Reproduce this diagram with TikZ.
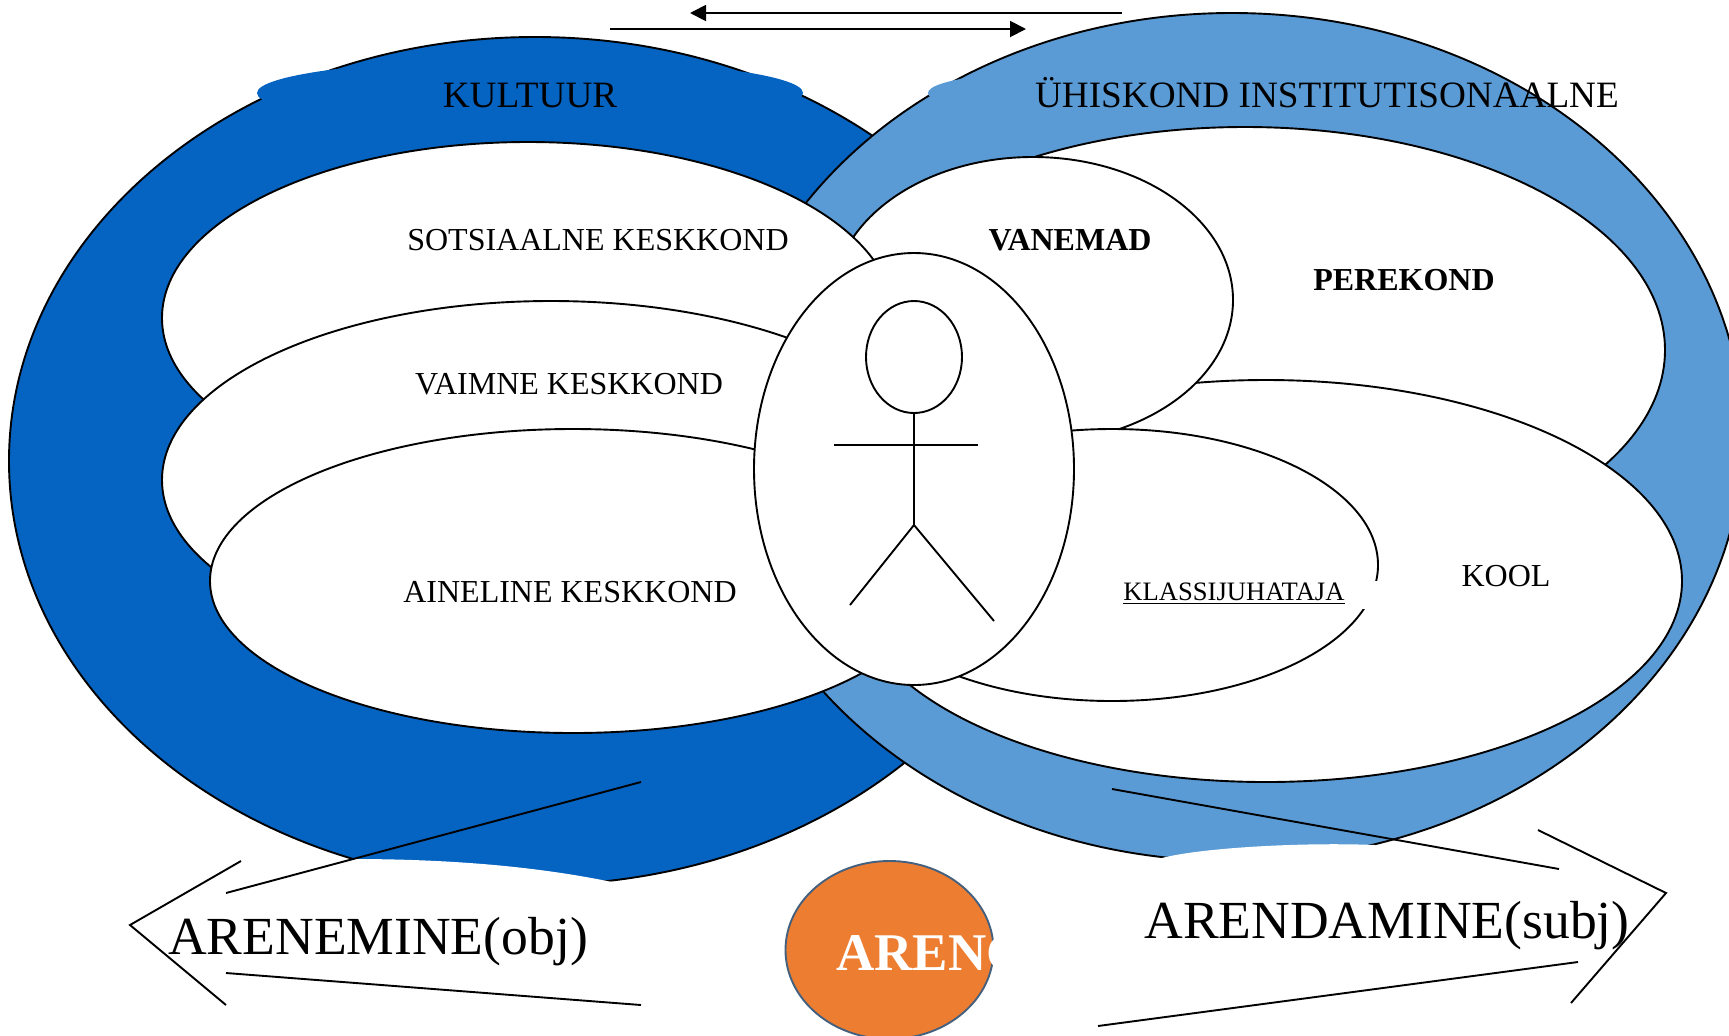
\documentclass[tikz,border=0pt]{standalone}
\usepackage{fontspec}
\setmainfont{Liberation Serif}
\usetikzlibrary{shapes.geometric,arrows.meta}
\definecolor{darkblue}{HTML}{0563C1}
\definecolor{lightblue}{HTML}{5B9BD5}
\definecolor{orangefill}{HTML}{ED7D31}
\definecolor{orangeedge}{HTML}{44607F}
\tikzset{
  oval/.style n args={2}{ellipse,inner sep=0pt,outer sep=0pt,minimum width=#1 pt,minimum height=#2 pt},
  white oval/.style n args={2}{oval={#1}{#2},draw=black,line width=0.95pt,fill=white},
  label16/.style={anchor=base,inner sep=0pt,font=\fontsize{16}{18}\selectfont},
  label18/.style={anchor=base,inner sep=0pt,font=\fontsize{18.6}{20}\selectfont},
  label27/.style={anchor=base,inner sep=0pt,font=\fontsize{26.8}{30}\selectfont},
  thin line/.style={draw=black,line width=0.95pt},
  head tip/.style={-{Triangle[length=8pt,width=8pt]}},
}
\begin{document}
\begin{tikzpicture}[x=0.5pt,y=-0.5pt]
\useasboundingbox (0,0) rectangle (1729,1035);
% outer rings
\node[oval={526}{424},draw=black,line width=0.95pt,fill=darkblue] (dark) at (535,461) {};
\node[oval={273}{34},fill=darkblue] (darkcap) at (530,93) {};
\fill[white] (352,859) .. controls (440,859) and (530,865) .. (612,882) -- (640,960) -- (300,960) -- cycle;
\node[oval={511}{424},draw=black,line width=0.95pt,fill=lightblue] (light) at (1232,437) {};
\node[oval={172}{24},fill=lightblue] (lightcap) at (1100,93) {};
\fill[white] (1162,858) .. controls (1200,848) and (1300,842) .. (1375,845) -- (1400,960) -- (1130,960) -- cycle;
% right ovals
\node[white oval={420}{223}] (perekond) at (1245,350) {};
\node[white oval={416}{201}] (kool) at (1266,581) {};
\node[white oval={200}{143}] (vanemad) at (1033,300) {};
\node[white oval={266}{136}] (klass) at (1112,565) {};
\fill[white] (1355,581) rectangle (1390,609);
% left ovals
\node[white oval={366}{176}] (sots) at (528,318) {};
\node[white oval={389}{179}] (vaimne) at (551,480) {};
\node[white oval={363}{152}] (aine) at (573,581) {};
% child
\node[white oval={160}{216}] (child) at (914,469) {};
\node[white oval={48}{56}] (head) at (914,357) {};
\coordinate (hip) at (914,525);
\coordinate (armL) at (834,445);
\coordinate (armR) at (978,445);
\coordinate (legL) at (850,605);
\coordinate (legR) at (994,621);
\draw[thin line] (head.south) -- (hip);
\draw[thin line] (armL) -- (armR);
\draw[thin line] (legL) -- (hip) -- (legR);
% top arrows
\coordinate (a1s) at (1122,13);
\coordinate (a1e) at (690,13);
\coordinate (a2s) at (610,29);
\coordinate (a2e) at (1026,29);
\draw[thin line,head tip] (a1s) -- (a1e);
\draw[thin line,head tip] (a2s) -- (a2e);
% big left arrow
\coordinate (l1) at (641,782);
\coordinate (l2) at (226,893);
\coordinate (l3) at (241,861);
\coordinate (l4) at (130,925);
\coordinate (l5) at (226,1005);
\coordinate (l6) at (226,973);
\coordinate (l7) at (641,1005);
\draw[thin line] (l1) -- (l2);
\draw[thin line] (l3) -- (l4) -- (l5);
\draw[thin line] (l6) -- (l7);
% big right arrow
\coordinate (r1) at (1112,789);
\coordinate (r2) at (1559,869);
\coordinate (r3) at (1538,830);
\coordinate (r4) at (1666,893);
\coordinate (r5) at (1571,1003);
\coordinate (r6) at (1578,962);
\coordinate (r7) at (1098,1026);
\draw[thin line] (r1) -- (r2);
\draw[thin line] (r3) -- (r4) -- (r5);
\draw[thin line] (r6) -- (r7);
% orange
\node[oval={104}{89},draw=orangeedge,line width=0.95pt,fill=orangefill] (areng) at (889.5,950) {};
\node[anchor=base west,inner sep=0pt,text=white,font=\fontsize{26.5}{30}\selectfont\bfseries] (arengt) at (836,970) {ARENG};
% labels
\node[label18] (t1) at (530,107) {KULTUUR};
\node[label18] (t2) at (1327,107) {ÜHISKOND INSTITUTISONAALNE};
\node[label16] (t3) at (598,250) {SOTSIAALNE KESKKOND};
\node[label16] (t4) at (569,394) {VAIMNE KESKKOND};
\node[label16] (t5) at (570,602) {AINELINE KESKKOND};
\node[label16,font=\fontsize{16}{18}\selectfont\bfseries] (t6) at (1070,250) {VANEMAD};
\node[label16,font=\fontsize{16}{18}\selectfont\bfseries] (t7) at (1404,290) {PEREKOND};
\node[label16] (t8) at (1506,586) {KOOL};
\node[anchor=base,inner sep=0pt,font=\fontsize{13.3}{16}\selectfont] (t9) at (1234,600) {\underline{KLASSIJUHATAJA}};
\node[label27] (t10) at (378,954) {ARENEMINE(obj)};
\node[label27] (t11) at (1387,938) {ARENDAMINE(subj)};
\end{tikzpicture}
\end{document}
